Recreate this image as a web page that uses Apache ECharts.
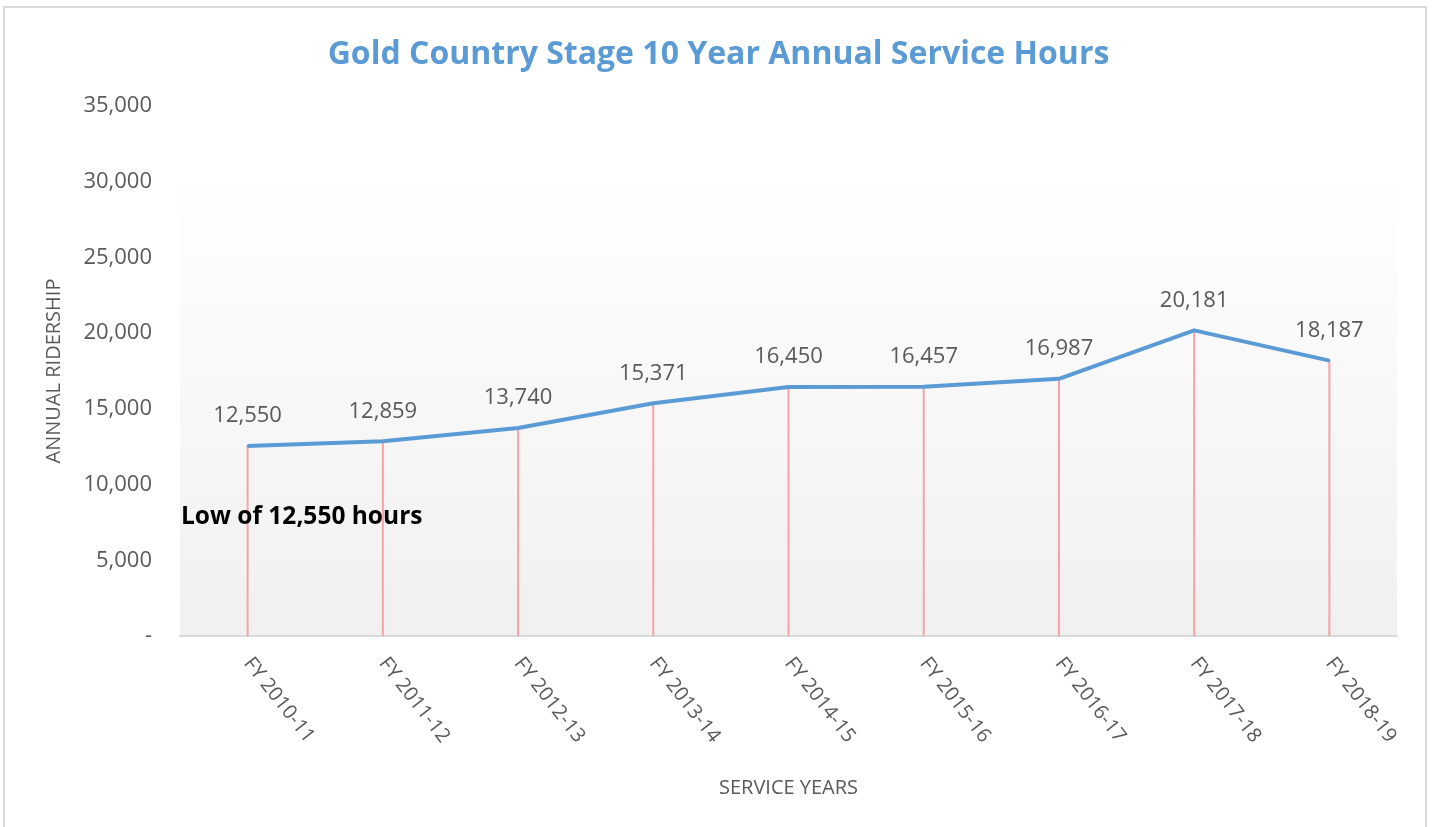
<!DOCTYPE html>
<html><head><meta charset="utf-8">
<script src="https://cdn.jsdelivr.net/npm/echarts@6/dist/echarts.min.js"></script>
<style>html,body{margin:0;padding:0;background:#fff}#c{width:1437px;height:827px}</style>
</head><body><div id="c"></div>
<script>
const categories = ['FY 2010-11','FY 2011-12','FY 2012-13','FY 2013-14','FY 2014-15','FY 2015-16','FY 2016-17','FY 2017-18','FY 2018-19'];
const hours = [12550, 12859, 13740, 15371, 16450, 16457, 16987, 20181, 18187];
const yTicks = [0, 5000, 10000, 15000, 20000, 25000, 30000, 35000];
const titleText = 'Gold Country Stage 10 Year Annual Service Hours';
const noteText = 'Low of 12,550 hours';

const chart = echarts.init(document.getElementById('c'), null, {renderer:'canvas'});
const fmt = v => v === 0 ? '-' : v.toLocaleString('en-US');
const font = '"Open Sans", "Noto Sans", sans-serif';
chart.setOption({
  animation:false,
  backgroundColor:'#fff',
  textStyle:{fontFamily:font},
  title:{text:titleText, left:'center', top:34,
    textStyle:{color:'#5B9BD5', fontSize:32, fontWeight:'bold', fontFamily:font}},
  grid:{left:180, right:40, top:106, bottom:191},
  graphic:[
    {type:'rect', z:-10, shape:{x:4,y:7,width:1422,height:825}, style:{fill:'none', stroke:'#D9D9D9', lineWidth:2}},
    {type:'rect', z:-5, shape:{x:180,y:167,width:1217,height:469},
      style:{fill:new echarts.graphic.LinearGradient(0,0,0,1,[{offset:0,color:'#FFFFFF'},{offset:1,color:'#F0F0F0'}])}},
    {type:'text', z:20, left:181, top:505, style:{text:noteText, fill:'#000', font:'bold 24.5px ' + font}}
  ],
  xAxis:{type:'category', data:categories, boundaryGap:true,
    name:'SERVICE YEARS', nameLocation:'middle', nameGap:142,
    nameTextStyle:{color:'#595959', fontSize:20},
    axisLine:{lineStyle:{color:'#D9D9D9', width:2}},
    axisTick:{show:false},
    axisLabel:{rotate:-52, color:'#595959', fontSize:20, margin:24}},
  yAxis:{type:'value', min:0, max:35000, interval:5000,
    name:'ANNUAL RIDERSHIP', nameLocation:'middle', nameGap:116,
    nameTextStyle:{color:'#595959', fontSize:20},
    axisLine:{show:false}, axisTick:{show:false}, splitLine:{show:false},
    axisLabel:{color:'#595959', fontSize:22, margin:28, formatter:v => yTicks.includes(v) ? fmt(v) : ''}},
  series:[
    {type:'bar', data:hours, barWidth:2, itemStyle:{color:'#F4A3A8'}, z:1, silent:true},
    {type:'line', data:hours, symbol:'circle', symbolSize:2, showSymbol:true, z:5,
      itemStyle:{color:'#5B9BD5'},
      lineStyle:{color:'#5B9BD5', width:4},
      label:{show:true, position:'top', distance:18, color:'#595959', fontSize:22, formatter:p => fmt(p.value)}}
  ]
});
</script></body></html>
